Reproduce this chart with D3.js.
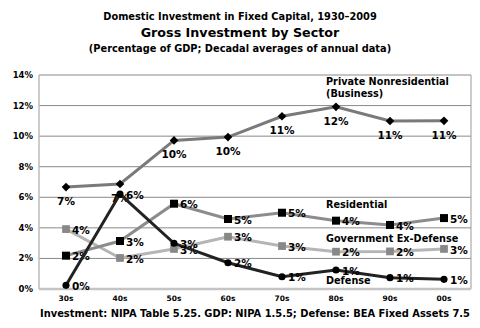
<!DOCTYPE html>
<html>
<head>
<meta charset="utf-8">
<script src="https://cdn.jsdelivr.net/npm/d3@7"></script>
<style>
  body { margin: 0; background: #fff; }
  text { font-family: "DejaVu Sans", Verdana, sans-serif; font-weight: bold; }
</style>
</head>
<body>
<script>
// decades and series values (percent of GDP)
var decades = ["30s", "40s", "50s", "60s", "70s", "80s", "90s", "00s"];
var privateNonres = [6.67, 6.87, 9.72, 9.94, 11.3, 11.92, 10.99, 11.0];
var residential = [2.18, 3.14, 5.58, 4.58, 4.99, 4.47, 4.19, 4.64];
var govExDefense = [3.92, 2.03, 2.62, 3.42, 2.81, 2.44, 2.46, 2.62];
var defense = [0.24, 6.21, 2.99, 1.72, 0.80, 1.24, 0.74, 0.63];
var yTicks = [0, 2, 4, 6, 8, 10, 12, 14];

var width = 480, height = 328;
var margin = {top: 75, right: 9, bottom: 39, left: 39};

var svg = d3.select("body").append("svg")
    .attr("width", width)
    .attr("height", height);

// titles
svg.append("text").attr("x", 240).attr("y", 20).attr("text-anchor", "middle")
    .style("font-size", "9.8px").text("Domestic Investment in Fixed Capital, 1930\u20132009");
svg.append("text").attr("x", 240).attr("y", 37).attr("text-anchor", "middle")
    .style("font-size", "12.7px").text("Gross Investment by Sector");
svg.append("text").attr("x", 240).attr("y", 52).attr("text-anchor", "middle")
    .style("font-size", "9.8px").text("(Percentage of GDP; Decadal averages of annual data)");

var x = d3.scaleBand()
    .domain(decades)
    .range([margin.left, width - margin.right]);

var y = d3.scaleLinear()
    .domain([0, 14])
    .range([height - margin.bottom, margin.top]);

var cx = function(d, i) { return x(decades[i]) + x.bandwidth() / 2; };

// gridlines
svg.append("g").selectAll("line")
    .data(yTicks.slice(1))
    .enter().append("line")
    .attr("x1", margin.left).attr("x2", width - margin.right)
    .attr("y1", function(d) { return y(d); }).attr("y2", function(d) { return y(d); })
    .style("stroke", "#8a8a8a").style("stroke-width", 1);

// plot frame
svg.append("line")
    .attr("x1", width - margin.right).attr("x2", width - margin.right)
    .attr("y1", y(14)).attr("y2", y(0))
    .style("stroke", "#999").style("stroke-width", 1);
svg.append("line")
    .attr("x1", margin.left).attr("x2", margin.left)
    .attr("y1", y(14)).attr("y2", y(0))
    .style("stroke", "#bbb").style("stroke-width", 1.5);
svg.append("line")
    .attr("x1", margin.left).attr("x2", width - margin.right)
    .attr("y1", y(0)).attr("y2", y(0))
    .style("stroke", "#c4c4c4").style("stroke-width", 2.5);

// y labels
svg.append("g").selectAll("text")
    .data(yTicks)
    .enter().append("text")
    .attr("x", 33)
    .attr("y", function(d) { return y(d); })
    .attr("dy", "0.35em")
    .attr("text-anchor", "end")
    .style("font-size", "8.5px")
    .text(function(d) { return d + "%"; });

// x labels
svg.append("g").selectAll("text")
    .data(decades)
    .enter().append("text")
    .attr("x", function(d) { return x(d) + x.bandwidth() / 2; })
    .attr("y", 301)
    .attr("text-anchor", "middle")
    .style("font-size", "7.5px")
    .text(function(d) { return d; });

svg.append("text").attr("x", 40).attr("y", 317)
    .attr("textLength", 430).attr("lengthAdjust", "spacingAndGlyphs")
    .style("font-size", "10px")
    .text("Investment: NIPA Table 5.25. GDP: NIPA 1.5.5; Defense: BEA Fixed Assets 7.5");

var line = d3.line()
    .x(cx)
    .y(function(d) { return y(d); });

var series = [
  {values: govExDefense, stroke: "#b5b5b5", marker: "square", fill: "#888", size: 60, label: "right"},
  {values: residential, stroke: "#8c8c8c", marker: "square", fill: "#000", size: 64, label: "right"},
  {values: privateNonres, stroke: "#7a7a7a", marker: "diamond", fill: "#000", size: 48, label: "below"},
  {values: defense, stroke: "#222", marker: "circle", fill: "#000", size: 40, label: "right"}
];

series.forEach(function(s) {
  var g = svg.append("g");
  g.append("path")
      .datum(s.values)
      .attr("d", line)
      .style("fill", "none")
      .style("stroke", s.stroke)
      .style("stroke-width", 3);

  var sym = s.marker === "square" ? d3.symbolSquare
          : s.marker === "diamond" ? d3.symbolDiamond2 : d3.symbolCircle;
  g.selectAll("path.mark")
      .data(s.values)
      .enter().append("path")
      .attr("class", "mark")
      .attr("d", d3.symbol().type(sym).size(s.size))
      .attr("transform", function(d, i) { return "translate(" + cx(d, i) + "," + y(d) + ")"; })
      .style("fill", s.fill);

  g.selectAll("text")
      .data(s.values)
      .enter().append("text")
      .attr("x", function(d, i) { return s.label === "below" ? cx(d, i) : cx(d, i) + 6; })
      .attr("y", function(d) { return s.label === "below" ? y(d) + 18 : y(d) + 1; })
      .attr("dy", s.label === "below" ? 0 : "0.35em")
      .attr("text-anchor", s.label === "below" ? "middle" : "start")
      .style("font-size", "10.5px")
      .text(function(d) { return Math.round(d) + "%"; });
});

// series names
var names = [
  {text: "Private Nonresidential", y: 85},
  {text: "(Business)", y: 97},
  {text: "Residential", y: 208},
  {text: "Government Ex-Defense", y: 242},
  {text: "Defense", y: 284}
];
svg.append("g").selectAll("text")
    .data(names)
    .enter().append("text")
    .attr("x", 326)
    .attr("y", function(d) { return d.y; })
    .style("font-size", "9.7px")
    .text(function(d) { return d.text; });
</script>
</body>
</html>
